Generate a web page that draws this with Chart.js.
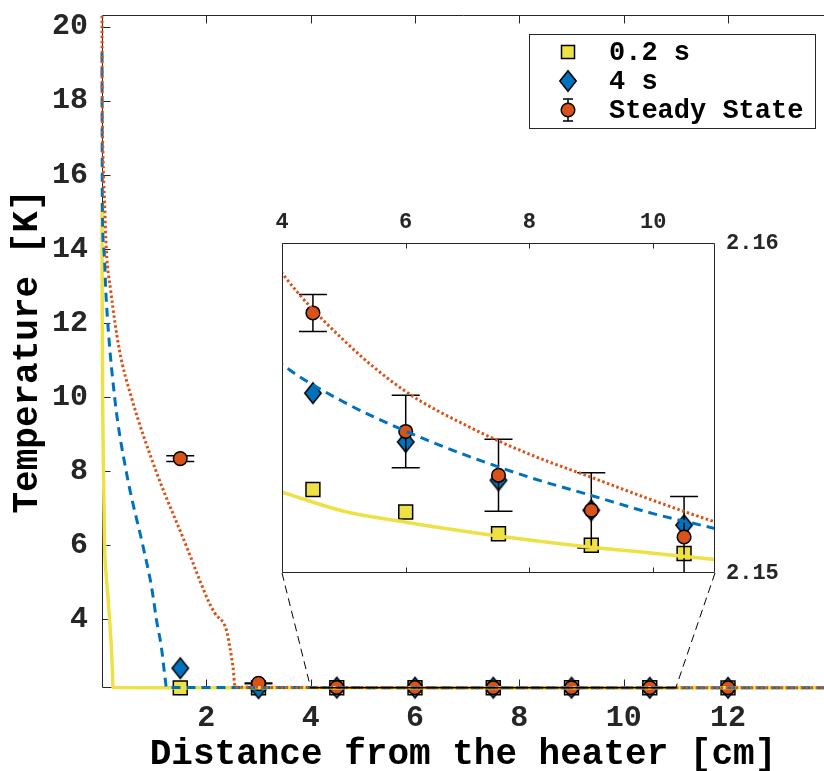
<!DOCTYPE html>
<html>
<head>
<meta charset="utf-8">
<script src="https://cdn.jsdelivr.net/npm/chart.js@4/dist/chart.umd.min.js"></script>
<style>
html, body { margin: 0; padding: 0; background: #fff; }
#wrap { position: relative; width: 824px; height: 771px; overflow: hidden; background: #fff; }
#main { position: absolute; left: 0; top: 0; }
#inset { position: absolute; left: 240px; top: 190px; }
</style>
</head>
<body>
<div id="wrap">
  <canvas id="main" width="824" height="771"></canvas>
  <canvas id="inset" width="584" height="510"></canvas>
</div>
<script>
// ---------------- data ----------------
const seriesNames = ['0.2 s', '4 s', 'Steady State'];
const xTitle = 'Distance from the heater [cm]';
const yTitle = 'Temperature [K]';

// measured points
const markerX = [1.5, 3, 4.5, 6, 7.5, 9, 10.5, 12];
const temp02  = [2.150, 2.150, 2.15253, 2.15185, 2.15119, 2.15084, 2.15059, 2.1502];
const temp4   = [2.680, 2.140, 2.15545, 2.15397, 2.15281, 2.15190, 2.15145, 2.1503];
const tempSS  = [8.340, 2.270, 2.15788, 2.15429, 2.15296, 2.15190, 2.15109, 2.1505];
const errSS   = [0.080, 0.010, 0.00056, 0.00110, 0.00109, 0.00114, 0.00123, 0.0010];

// model curves
const curve02X = [0, 0.004, 0.012, 0.028, 0.05, 0.088, 0.12, 0.178, 0.2, 0.21, 1, 2, 3, 4, 5, 6, 7, 8, 9, 10, 11, 12, 13.84];
const curve02Y = [15.24, 12.6, 10.0, 8.0, 6.0, 5.06, 4.5, 3.26, 2.6, 2.157, 2.1548, 2.1537, 2.1530, 2.15245, 2.15187, 2.15154, 2.15125, 2.15100, 2.15078, 2.15060, 2.15041, 2.1502, 2.1499];

const curve4X = [0, 0.006, 0.036, 0.082, 0.242, 0.466, 0.785, 0.926, 0.99, 1.042, 1.137, 1.214, 1.235, 2, 3, 4, 5, 6, 7, 8, 9, 10, 11, 12, 13.84];
const curve4Y = [19.3, 15.3, 14.0, 12.62, 10.0, 7.98, 5.98, 5.06, 4.52, 4.0, 3.26, 2.36, 2.162, 2.1600, 2.1580, 2.15632, 2.15518, 2.15430, 2.15355, 2.15290, 2.15235, 2.15180, 2.15135, 2.1509, 2.1502];

const curveSSX = [0, 0.005, 0.017, 0.05, 0.082, 0.165, 0.33, 0.562, 1.042, 1.617, 1.872, 2.031, 2.16, 2.385, 2.448, 2.511, 2.553, 3, 4, 5, 6, 7, 8, 9, 10, 11, 12, 13.84];
const curveSSY = [20.3, 18.0, 16.67, 15.24, 14.0, 12.9, 11.3, 10.0, 7.98, 5.98, 5.06, 4.52, 4.17, 3.71, 3.26, 2.72, 2.164, 2.1620, 2.15909, 2.15705, 2.15550, 2.15445, 2.15360, 2.15290, 2.15220, 2.15155, 2.1510, 2.1503];

// axes
const mainXRange = [0, 13.84];
const mainYRange = [2.145, 20.32];
const mainXTicks = [2, 4, 6, 8, 10, 12];
const mainYTicks = [4, 6, 8, 10, 12, 14, 16, 18, 20];
const insetXRange = [4, 11];
const insetYRange = [2.15, 2.16];
const insetXTicks = [4, 6, 8, 10];
const insetYTicks = [2.15, 2.16];

// ---------------- styles ----------------
const FONT = "'Liberation Mono', 'DejaVu Sans Mono', monospace";
const AX = '#262626';
const C_Y = '#EEE146';
const C_B = '#0072BD';
const C_O = '#D95319';
Chart.defaults.font.family = FONT;
Chart.defaults.color = AX;

const diamondImg = (() => {
  const w = 18, h = 22, c = document.createElement('canvas');
  c.width = w + 2; c.height = h + 2;
  const g = c.getContext('2d');
  const cx = c.width / 2, cy = c.height / 2;
  g.beginPath();
  g.moveTo(cx, cy - h / 2 + 0.8);
  g.lineTo(cx + w / 2 - 0.8, cy);
  g.lineTo(cx, cy + h / 2 - 0.8);
  g.lineTo(cx - w / 2 + 0.8, cy);
  g.closePath();
  g.fillStyle = C_B; g.fill();
  g.lineWidth = 1.5; g.strokeStyle = '#000'; g.stroke();
  return c;
})();

const pts = (xs, ys) => xs.map((x, i) => ({ x, y: ys[i] }));

function buildDatasets(isInset) {
  const clip = isInset ? undefined : false;
  return [
    { label: 'ss-fit', data: pts(curveSSX, curveSSY), borderColor: C_O, borderWidth: 3, borderDash: [2.5, 2.5],
      pointRadius: 0, cubicInterpolationMode: 'monotone', fill: false, order: 0, clip },
    { label: '4s-fit', data: pts(curve4X, curve4Y), borderColor: C_B, borderWidth: 3, borderDash: [9, 6],
      pointRadius: 0, cubicInterpolationMode: 'monotone', fill: false, order: 0, clip },
    { label: '02-fit', data: pts(curve02X, curve02Y), borderColor: C_Y, borderWidth: 3.5,
      pointRadius: 0, cubicInterpolationMode: 'monotone', fill: false, order: 0, clip },
    { label: seriesNames[2], data: pts(markerX, tempSS), errors: errSS, showLine: false,
      pointStyle: 'circle', pointRadius: 6.8, backgroundColor: C_O, borderColor: '#000', borderWidth: 1.5,
      order: 1, clip },
    { label: seriesNames[1], data: pts(markerX, temp4), showLine: false,
      pointStyle: diamondImg, pointRadius: 10, backgroundColor: C_B, borderColor: '#000',
      order: 2, clip },
    { label: seriesNames[0], data: pts(markerX, temp02), showLine: false,
      pointStyle: 'rect', pointRadius: 9.8, backgroundColor: C_Y, borderColor: '#000', borderWidth: 1.5,
      order: 3, clip }
  ];
}

// ---------------- plugins ----------------
const errorBarPlugin = {
  id: 'errbars',
  beforeDatasetDraw(chart, args, o) {
    const ds = chart.data.datasets[args.index];
    if (!ds.errors) return;
    const xs = chart.scales.x, ys = chart.scales.y, ctx = chart.ctx, a = chart.chartArea;
    ctx.save();
    if (o.clip) { ctx.beginPath(); ctx.rect(a.left, a.top, a.right - a.left, a.bottom - a.top); ctx.clip(); }
    ctx.strokeStyle = '#000'; ctx.lineWidth = 1.5;
    const cap = 14;
    ds.data.forEach((p, i) => {
      const e = ds.errors[i];
      const px = xs.getPixelForValue(p.x);
      const y1 = ys.getPixelForValue(p.y + e), y2 = ys.getPixelForValue(p.y - e);
      ctx.beginPath();
      ctx.moveTo(px, y1); ctx.lineTo(px, y2);
      ctx.moveTo(px - cap, y1); ctx.lineTo(px + cap, y1);
      ctx.moveTo(px - cap, y2); ctx.lineTo(px + cap, y2);
      ctx.stroke();
    });
    ctx.restore();
  }
};

function drawFrame(chart, o) {
  const { ctx, chartArea: a } = chart;
  const xs = chart.scales.x, ys = chart.scales.y;
  const L = Math.round(a.left) + 0.5, R = Math.round(a.right) - 0.5;
  const T = Math.round(a.top) + 0.5, B = Math.round(a.bottom) - 0.5;
  const tl = o.tickLen;
  ctx.save();
  ctx.strokeStyle = AX; ctx.lineWidth = 1;
  ctx.beginPath();
  ctx.moveTo(L, T); ctx.lineTo(L, B);
  ctx.moveTo(L, B); ctx.lineTo(o.right ? R : a.right, B);
  ctx.moveTo(L, T); ctx.lineTo(o.right ? R : a.right, T);
  if (o.right) { ctx.moveTo(R, T); ctx.lineTo(R, B); }
  xs.ticks.forEach(t => {
    const px = Math.round(xs.getPixelForValue(t.value)) + 0.5;
    ctx.moveTo(px, B); ctx.lineTo(px, B - tl);
    ctx.moveTo(px, T); ctx.lineTo(px, T + tl);
  });
  if (o.yTicks) {
    ys.ticks.forEach(t => {
      const py = Math.round(ys.getPixelForValue(t.value)) + 0.5;
      ctx.moveTo(L, py); ctx.lineTo(L + tl, py);
    });
  }
  ctx.stroke();
  ctx.restore();
}

const framePlugin = {
  id: 'frame',
  beforeDatasetsDraw(chart, args, o) {
    const a = chart.chartArea, ctx = chart.ctx;
    if (o.bg) {
      ctx.save(); ctx.fillStyle = '#fff';
      ctx.fillRect(a.left, a.top, a.right - a.left, a.bottom - a.top);
      ctx.restore();
    }
    if (!o.onTop) drawFrame(chart, o);
  },
  afterDraw(chart, args, o) {
    if (o.onTop) drawFrame(chart, o);
  }
};

const zoomRectPlugin = {
  id: 'zoomRect',
  afterDatasetsDraw(chart) {
    const xs = chart.scales.x, ys = chart.scales.y, ctx = chart.ctx;
    const x1 = xs.getPixelForValue(insetXRange[0]), x2 = xs.getPixelForValue(insetXRange[1]);
    const y1 = ys.getPixelForValue(insetYRange[1]), y2 = ys.getPixelForValue(insetYRange[0]);
    ctx.save(); ctx.strokeStyle = '#000'; ctx.lineWidth = 1;
    ctx.strokeRect(x1, y1, x2 - x1, Math.max(y2 - y1, 0.5));
    ctx.restore();
  }
};

const legendPlugin = {
  id: 'boxLegend',
  afterDraw(chart) {
    const ctx = chart.ctx;
    const bx = 529.5, by = 34.5, bw = 286, bh = 94;
    const ix = 568, tx = 609, rows = [52, 81, 110];
    ctx.save();
    ctx.fillStyle = '#fff'; ctx.fillRect(bx, by, bw, bh);
    ctx.strokeStyle = AX; ctx.lineWidth = 1; ctx.strokeRect(bx, by, bw, bh);
    // square
    ctx.fillStyle = C_Y; ctx.strokeStyle = '#000'; ctx.lineWidth = 1.5;
    ctx.fillRect(ix - 6.5, rows[0] - 6.5, 13, 13); ctx.strokeRect(ix - 6.5, rows[0] - 6.5, 13, 13);
    // diamond
    ctx.drawImage(diamondImg, Math.round(ix - diamondImg.width / 2), Math.round(rows[1] - diamondImg.height / 2));
    // error bar + circle
    ctx.beginPath();
    ctx.moveTo(ix, rows[2] - 11); ctx.lineTo(ix, rows[2] + 11);
    ctx.moveTo(ix - 5, rows[2] - 11); ctx.lineTo(ix + 5, rows[2] - 11);
    ctx.moveTo(ix - 5, rows[2] + 11); ctx.lineTo(ix + 5, rows[2] + 11);
    ctx.stroke();
    ctx.beginPath(); ctx.arc(ix, rows[2], 6.8, 0, Math.PI * 2);
    ctx.fillStyle = C_O; ctx.fill(); ctx.stroke();
    // text
    ctx.fillStyle = '#000';
    ctx.font = 'bold 27px ' + FONT;
    ctx.textBaseline = 'middle'; ctx.textAlign = 'left';
    seriesNames.forEach((n, i) => ctx.fillText(n, tx, rows[i] + 1));
    ctx.restore();
  }
};

const noPadX = s => { s.paddingLeft = 0; s.paddingRight = 0; };
const noPadY = s => { s.paddingTop = 0; s.paddingBottom = 0; };

// ---------------- main chart ----------------
const mainChart = new Chart(document.getElementById('main'), {
  type: 'line',
  data: { datasets: buildDatasets(false) },
  plugins: [errorBarPlugin, framePlugin, zoomRectPlugin, legendPlugin],
  options: {
    responsive: false, animation: false, devicePixelRatio: 1, events: [],
    layout: { autoPadding: false, padding: { left: 0, right: 0, top: 15, bottom: 0 } },
    plugins: {
      legend: { display: false }, tooltip: { enabled: false },
      errbars: { clip: false },
      frame: { tickLen: 8, yTicks: true, right: false, onTop: false }
    },
    scales: {
      x: {
        type: 'linear', position: 'bottom', min: mainXRange[0], max: mainXRange[1],
        afterBuildTicks: s => { s.ticks = mainXTicks.map(v => ({ value: v })); },
        afterFit: s => { s.height = 83; noPadX(s); },
        grid: { display: false, drawTicks: false }, border: { display: false },
        ticks: { padding: 12, color: AX, font: { size: 30, weight: 'bold' }, maxRotation: 0, autoSkip: false },
        title: { display: true, text: xTitle, color: '#000', font: { size: 36, weight: 'bold', lineHeight: 1 }, padding: { top: 0, bottom: -2 } }
      },
      y: {
        type: 'linear', position: 'left', min: mainYRange[0], max: mainYRange[1],
        afterBuildTicks: s => { s.ticks = mainYTicks.map(v => ({ value: v })); },
        afterFit: s => { s.width = 102; noPadY(s); },
        grid: { display: false, drawTicks: false }, border: { display: false },
        ticks: { padding: 14, color: AX, font: { size: 30, weight: 'bold' }, autoSkip: false },
        title: { display: true, text: yTitle, color: '#000', font: { size: 36, weight: 'bold', lineHeight: 1 }, padding: { top: 10, bottom: 0 } }
      }
    }
  }
});

// ---------------- inset chart ----------------
const insetCanvas = document.getElementById('inset');
const connectorPlugin = {
  id: 'connectors',
  afterDraw(chart) {
    const ctx = chart.ctx, a = chart.chartArea;
    const ox = insetCanvas.offsetLeft, oy = insetCanvas.offsetTop;
    const mx = mainChart.scales.x, my = mainChart.scales.y;
    const yb = my.getPixelForValue(insetYRange[0]) - oy;
    ctx.save();
    ctx.strokeStyle = '#000'; ctx.lineWidth = 1; ctx.setLineDash([8, 5]);
    ctx.beginPath();
    ctx.moveTo(a.left, a.bottom); ctx.lineTo(mx.getPixelForValue(insetXRange[0]) - ox, yb);
    ctx.moveTo(a.right, a.bottom); ctx.lineTo(mx.getPixelForValue(insetXRange[1]) - ox, yb);
    ctx.stroke();
    ctx.restore();
  }
};

new Chart(insetCanvas, {
  type: 'line',
  data: { datasets: buildDatasets(true) },
  plugins: [errorBarPlugin, framePlugin, connectorPlugin],
  options: {
    responsive: false, animation: false, devicePixelRatio: 1, events: [],
    layout: { autoPadding: false, padding: { left: 42, right: 0, top: 0, bottom: 127 } },
    plugins: {
      legend: { display: false }, tooltip: { enabled: false },
      errbars: { clip: true },
      frame: { tickLen: 5, yTicks: false, right: true, bg: true, onTop: true }
    },
    scales: {
      x: {
        type: 'linear', position: 'top', min: insetXRange[0], max: insetXRange[1],
        afterBuildTicks: s => { s.ticks = insetXTicks.map(v => ({ value: v })); },
        afterFit: s => { s.height = 53; noPadX(s); },
        grid: { display: false, drawTicks: false }, border: { display: false },
        ticks: { padding: 7, color: AX, font: { size: 22, weight: 'bold' }, maxRotation: 0, autoSkip: false }
      },
      y: {
        type: 'linear', position: 'right', min: insetYRange[0], max: insetYRange[1],
        afterBuildTicks: s => { s.ticks = insetYTicks.map(v => ({ value: v })); },
        afterFit: s => { s.width = 109; noPadY(s); },
        grid: { display: false, drawTicks: false }, border: { display: false },
        ticks: { padding: 11, color: AX, font: { size: 22, weight: 'bold' }, autoSkip: false,
                 callback: v => Number(v).toFixed(2) }
      }
    }
  }
});
</script>
</body>
</html>
